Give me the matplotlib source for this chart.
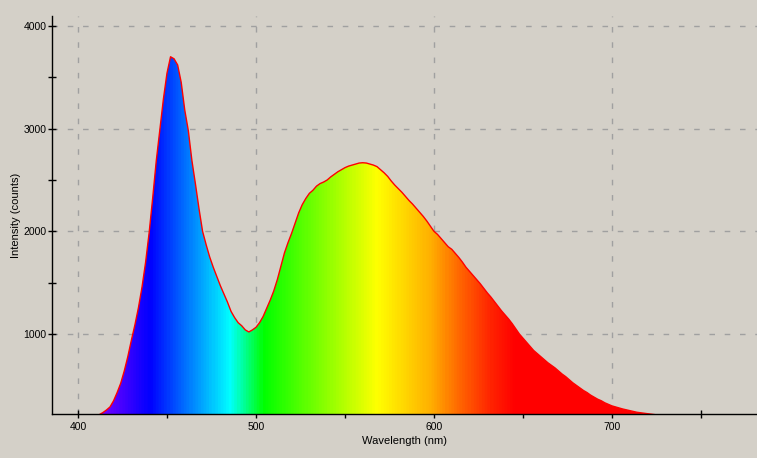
import numpy as np
import matplotlib
matplotlib.use("Agg")
import matplotlib.pyplot as plt
from matplotlib.colors import LinearSegmentedColormap

plt.rcParams["font.family"] = ["Liberation Sans", "DejaVu Sans"]

wavelength = [412, 414, 416, 418, 420, 422, 424, 426, 428, 430, 432, 434, 436, 438,
              440, 442, 444, 446, 448, 450, 452, 454, 456, 458, 460, 462, 464, 466,
              468, 470, 472, 474, 476, 478, 480, 482, 484, 486, 488, 490, 492, 494,
              496, 498, 500, 502, 504, 506, 508, 510, 512, 514, 516, 518, 520, 522,
              524, 526, 528, 530, 532, 534, 536, 538, 540, 542, 544, 546, 548, 550,
              552, 554, 556, 558, 560, 562, 564, 566, 568, 570, 572, 574, 576, 578,
              580, 582, 584, 586, 588, 590, 592, 594, 596, 598, 600, 602, 604, 606,
              608, 610, 612, 614, 616, 618, 620, 622, 624, 626, 628, 630, 632, 634,
              636, 638, 640, 642, 644, 646, 648, 650, 652, 654, 656, 658, 660, 662,
              664, 666, 668, 670, 672, 674, 676, 678, 680, 682, 684, 686, 688, 690,
              692, 694, 696, 698, 700, 702, 704, 706, 708, 710, 712, 714, 716, 718,
              720, 722, 724, 726]
intensity = [215, 235, 260, 290, 350, 430, 520, 640, 780, 940, 1090, 1260, 1460, 1700,
             1990, 2330, 2690, 2990, 3290, 3540, 3700, 3680, 3620, 3450, 3180, 2980, 2690, 2460,
             2220, 2000, 1870, 1750, 1650, 1560, 1470, 1390, 1310, 1220, 1160, 1110, 1080, 1040,
             1020, 1040, 1065, 1110, 1170, 1250, 1330, 1420, 1530, 1660, 1790, 1890, 1980, 2080,
             2180, 2260, 2320, 2370, 2400, 2440, 2465, 2480, 2500, 2530, 2555, 2580, 2600, 2620,
             2635, 2645, 2655, 2665, 2668, 2665, 2655, 2645, 2630, 2600, 2570, 2535, 2490, 2450,
             2415, 2380, 2340, 2300, 2265, 2225, 2185, 2145, 2100, 2050, 2000, 1970, 1930, 1890,
             1850, 1825, 1785, 1745, 1700, 1650, 1610, 1570, 1530, 1490, 1445, 1400, 1360, 1315,
             1270, 1225, 1185, 1145, 1100, 1050, 1000, 960, 920, 880, 840, 810, 780, 750,
             720, 695, 670, 640, 610, 585, 555, 525, 500, 475, 450, 430, 405, 385,
             365, 350, 330, 315, 300, 290, 280, 270, 262, 253, 245, 238, 233, 228,
             224, 220, 215, 205]

x_ticks = [400, 500, 600, 700]
y_ticks = [1000, 2000, 3000, 4000]
xlabel = "Wavelength (nm)"
ylabel = "Intensity (counts)"

# spectrum colour stops (wavelength, colour)
spec_wl = [385, 412, 440, 485, 504, 568, 598, 614, 632, 646, 790]
spec_col = ["#9a00ff", "#7800ff", "#0000ff", "#00ffff", "#00ff00", "#ffff00",
            "#ffb000", "#ff6800", "#ff2400", "#ff0000", "#ff0000"]

BG = "#d4d0c8"
W, H = 757, 458
fig = plt.figure(figsize=(W / 100, H / 100), dpi=100, facecolor=BG)
ax = fig.add_axes([52 / W, (H - 414) / H, (W - 52) / W, (414 - 16) / H])
ax.set_facecolor(BG)

xmin, xmax = 385.4, 781.5
ymin, ymax = 221, 4097
ax.set_xlim(xmin, xmax)
ax.set_ylim(ymin, ymax)

lo, hi = spec_wl[0], spec_wl[-1]
stops = [((w - lo) / (hi - lo), c) for w, c in zip(spec_wl, spec_col)]
cmap = LinearSegmentedColormap.from_list("spec", stops)

wl = np.array(wavelength, dtype=float)
iv = np.array(intensity, dtype=float)
poly = ax.fill_between(wl, iv, 0, facecolor="none", edgecolor="none")
grad = np.linspace(lo, hi, 800)[None, :]
im = ax.imshow(grad, extent=[lo, hi, 0, ymax], aspect="auto", cmap=cmap,
               vmin=lo, vmax=hi, origin="lower", interpolation="bilinear", zorder=2)
im.set_clip_path(poly.get_paths()[0], transform=ax.transData)
ax.plot(wl, iv, color="#ff0000", lw=1.0, zorder=3)

ax.set_xticks(x_ticks)
ax.set_xticks([450, 550, 650, 750], minor=True)
ax.set_yticks(y_ticks)
ax.set_yticks([1500, 2500, 3500], minor=True)
ax.grid(True, which="major", color="#a0a0a0", linestyle=(0, (4, 7)), lw=1.0, zorder=1)
ax.set_axisbelow(True)

for s in ["top", "right"]:
    ax.spines[s].set_visible(False)
for s in ["left", "bottom"]:
    ax.spines[s].set_color("black")
    ax.spines[s].set_linewidth(1.0)
    ax.spines[s].set_zorder(4)

ax.tick_params(which="both", direction="inout", length=6, width=1.0, color="black",
               labelsize=7.5, labelcolor="black")
ax.tick_params(axis="y", pad=0.8)
ax.tick_params(axis="x", pad=2.5)
ax.set_xlabel(xlabel, fontsize=8, labelpad=3)
ax.set_ylabel(ylabel, fontsize=8)
ax.yaxis.set_label_coords(-(52 - 21) / (W - 52), 0.5)

fig.savefig("out.png", dpi=100, facecolor=BG)
